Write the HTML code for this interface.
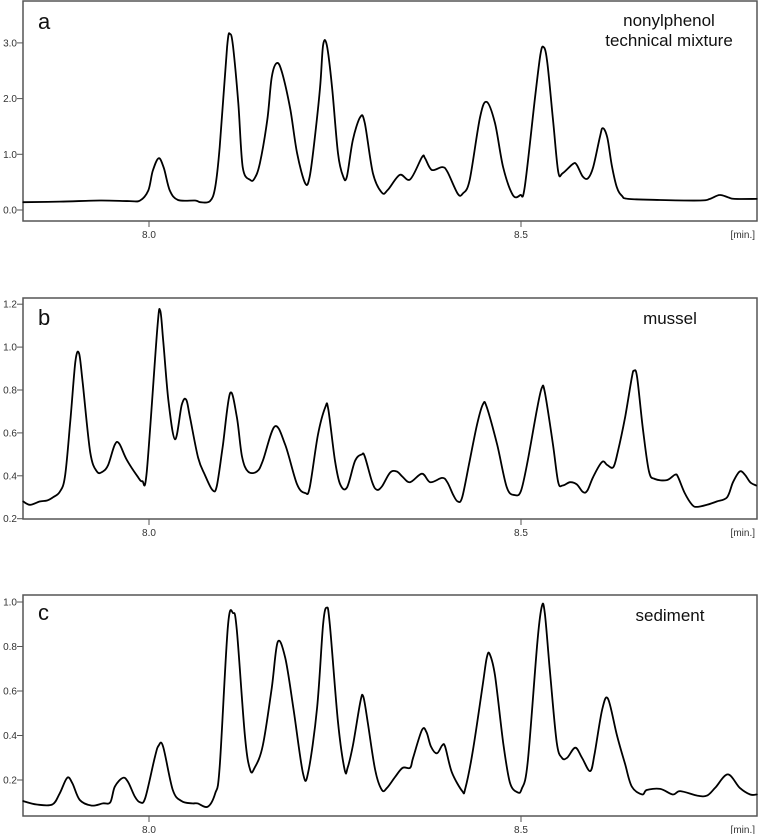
<!DOCTYPE html>
<html><head><meta charset="utf-8">
<style>
html,body{margin:0;padding:0;background:#fff;}
svg{display:block;font-family:"Liberation Sans",Arial,sans-serif;}
</style></head>
<body>
<svg id="chart" width="761" height="834" viewBox="0 0 761 834" xmlns="http://www.w3.org/2000/svg"></svg>
<script>
// Panel a: nonylphenol technical mixture
const timesA = [7.831,7.880,7.934,7.974,7.988,7.999,8.005,8.013,8.020,8.028,8.039,8.062,8.069,8.082,8.089,8.095,8.105,8.109,8.113,8.120,8.126,8.136,8.142,8.149,8.159,8.165,8.172,8.179,8.190,8.199,8.210,8.216,8.223,8.230,8.234,8.239,8.246,8.254,8.261,8.266,8.274,8.284,8.290,8.301,8.313,8.321,8.337,8.351,8.367,8.371,8.380,8.394,8.401,8.415,8.422,8.431,8.445,8.454,8.465,8.476,8.489,8.499,8.505,8.519,8.526,8.530,8.535,8.543,8.550,8.556,8.570,8.575,8.583,8.590,8.597,8.606,8.610,8.616,8.622,8.629,8.636,8.644,8.687,8.741,8.754,8.767,8.778,8.787,8.817];
const valuesA = [0.14,0.15,0.17,0.16,0.17,0.35,0.7,0.93,0.75,0.35,0.18,0.17,0.14,0.16,0.41,1.13,2.93,3.16,2.93,1.92,0.77,0.54,0.57,0.84,1.62,2.39,2.64,2.46,1.8,1.02,0.48,0.6,1.31,2.21,2.96,2.96,2.21,1.02,0.6,0.6,1.26,1.67,1.56,0.66,0.31,0.36,0.63,0.55,0.95,0.93,0.72,0.77,0.69,0.29,0.30,0.54,1.67,1.94,1.56,0.77,0.27,0.27,0.41,2.03,2.78,2.93,2.69,1.62,0.69,0.66,0.83,0.81,0.6,0.57,0.77,1.31,1.47,1.3,0.8,0.4,0.25,0.2,0.18,0.17,0.2,0.27,0.23,0.2,0.2];
const ticksA = ["0.0","1.0","2.0","3.0"];

// Panel b: mussel
const timesB = [7.831,7.840,7.853,7.863,7.871,7.880,7.887,7.894,7.901,7.906,7.911,7.921,7.930,7.938,7.945,7.954,7.960,7.970,7.984,7.991,7.997,8.011,8.015,8.019,8.026,8.035,8.044,8.050,8.055,8.066,8.075,8.085,8.091,8.099,8.109,8.118,8.125,8.133,8.145,8.153,8.169,8.183,8.199,8.210,8.216,8.227,8.237,8.241,8.250,8.257,8.266,8.277,8.286,8.290,8.300,8.306,8.313,8.324,8.333,8.341,8.351,8.367,8.378,8.394,8.401,8.409,8.415,8.421,8.431,8.441,8.449,8.454,8.468,8.481,8.492,8.500,8.509,8.522,8.528,8.532,8.543,8.550,8.556,8.566,8.575,8.583,8.589,8.597,8.609,8.616,8.624,8.630,8.640,8.649,8.652,8.656,8.664,8.672,8.680,8.696,8.707,8.711,8.720,8.730,8.737,8.750,8.763,8.777,8.785,8.794,8.801,8.808,8.816];
const valuesB = [0.28,0.265,0.28,0.285,0.30,0.325,0.395,0.645,0.93,0.97,0.83,0.51,0.42,0.42,0.45,0.545,0.55,0.475,0.40,0.375,0.42,1.08,1.17,1.035,0.755,0.57,0.73,0.755,0.675,0.485,0.405,0.335,0.35,0.535,0.785,0.675,0.49,0.42,0.42,0.47,0.63,0.545,0.36,0.32,0.345,0.59,0.72,0.71,0.47,0.36,0.345,0.47,0.50,0.49,0.37,0.335,0.35,0.415,0.42,0.395,0.37,0.41,0.37,0.39,0.37,0.31,0.28,0.30,0.47,0.64,0.735,0.72,0.545,0.345,0.31,0.33,0.47,0.72,0.81,0.79,0.545,0.37,0.355,0.37,0.36,0.325,0.33,0.395,0.465,0.45,0.44,0.51,0.675,0.86,0.89,0.86,0.615,0.42,0.385,0.38,0.405,0.395,0.32,0.265,0.255,0.265,0.28,0.30,0.37,0.42,0.405,0.37,0.355];
const ticksB = ["0.2","0.4","0.6","0.8","1.0","1.2"];

// Panel c: sediment
const timesC = [7.831,7.849,7.870,7.880,7.890,7.897,7.907,7.923,7.938,7.948,7.954,7.965,7.972,7.981,7.988,7.995,8.008,8.013,8.019,8.032,8.044,8.058,8.065,8.079,8.089,8.095,8.106,8.113,8.118,8.129,8.136,8.142,8.153,8.165,8.173,8.183,8.194,8.207,8.214,8.226,8.234,8.239,8.243,8.254,8.263,8.267,8.274,8.284,8.288,8.294,8.304,8.313,8.320,8.331,8.341,8.351,8.355,8.367,8.373,8.379,8.387,8.394,8.398,8.407,8.421,8.425,8.435,8.448,8.454,8.458,8.465,8.476,8.485,8.495,8.501,8.509,8.522,8.528,8.532,8.539,8.548,8.555,8.562,8.573,8.582,8.593,8.599,8.609,8.617,8.629,8.640,8.649,8.663,8.669,8.687,8.704,8.714,8.737,8.750,8.761,8.778,8.794,8.808,8.817];
const valuesC = [0.105,0.09,0.09,0.14,0.21,0.185,0.11,0.085,0.095,0.10,0.17,0.21,0.19,0.125,0.10,0.12,0.305,0.355,0.35,0.155,0.105,0.095,0.095,0.08,0.14,0.26,0.89,0.95,0.875,0.395,0.245,0.255,0.355,0.615,0.82,0.75,0.525,0.23,0.235,0.525,0.90,0.975,0.90,0.46,0.245,0.255,0.355,0.55,0.575,0.46,0.245,0.155,0.165,0.215,0.255,0.255,0.30,0.425,0.415,0.35,0.32,0.355,0.35,0.235,0.15,0.16,0.325,0.615,0.75,0.765,0.67,0.37,0.19,0.145,0.16,0.28,0.82,0.98,0.95,0.685,0.37,0.30,0.30,0.345,0.30,0.24,0.32,0.515,0.565,0.40,0.27,0.17,0.135,0.155,0.16,0.135,0.15,0.13,0.13,0.165,0.225,0.165,0.135,0.135];
const ticksC = ["0.2","0.4","0.6","0.8","1.0"];

const xTicks = ["8.0","8.5"];

const NS = "http://www.w3.org/2000/svg";
const svg = document.getElementById("chart");
function xScale(t){ return 149 + (t - 8.0) * 744; }
function mk(tag, attrs, parent){
  const e = document.createElementNS(NS, tag);
  for (const k in attrs) e.setAttribute(k, attrs[k]);
  (parent || svg).appendChild(e);
  return e;
}
function smoothPath(P){
  let d = "M" + P[0][0].toFixed(1) + "," + P[0][1].toFixed(1);
  for (let i = 0; i < P.length - 1; i++){
    const p0 = P[i - 1] || P[i], p1 = P[i], p2 = P[i + 1], p3 = P[i + 2] || P[i + 1];
    const c1x = p1[0] + (p2[0] - p0[0]) / 6, c1y = p1[1] + (p2[1] - p0[1]) / 6;
    const c2x = p2[0] - (p3[0] - p1[0]) / 6, c2y = p2[1] - (p3[1] - p1[1]) / 6;
    d += " C" + c1x.toFixed(1) + "," + c1y.toFixed(1) + " " + c2x.toFixed(1) + "," + c2y.toFixed(1) + " " + p2[0].toFixed(1) + "," + p2[1].toFixed(1);
  }
  return d;
}

const panels = [
  {id:"a", top:1, bottom:221, zeroY:210, ppu:55.7, times:timesA, values:valuesA, ticks:ticksA, letterY:29, titles:[["nonylphenol",669,26],["technical mixture",669,46]]},
  {id:"b", top:298, bottom:519, zeroY:518.7+0.2*214.5, ppu:214.5, times:timesB, values:valuesB, ticks:ticksB, letterY:325, titles:[["mussel",670,324]]},
  {id:"c", top:595, bottom:816, zeroY:824.5, ppu:222.5, times:timesC, values:valuesC, ticks:ticksC, letterY:620, titles:[["sediment",670,621]]}
];

panels.forEach(p => {
  const g = mk("g", {});
  
  
  const yScale = v => p.zeroY - v * p.ppu;

  const box = mk("rect", {x:23, y:p.top, width:734, height:p.bottom - p.top, fill:"none", stroke:"#555", "stroke-width":1.5}, g);
  
  

  p.ticks.forEach(lbl => {
    const y = yScale(parseFloat(lbl));
    const tk = mk("line", {x1:17, x2:23, y1:y, y2:y, stroke:"#555", "stroke-width":1}, g);
    
    
    const tx = mk("text", {x:17, y:y + 3.5, "text-anchor":"end", "font-size":10, fill:"#333"}, g);
    
    
    tx.textContent = lbl;
  });

  xTicks.forEach(lbl => {
    const x = xScale(parseFloat(lbl));
    const tk = mk("line", {x1:x, x2:x, y1:p.bottom, y2:p.bottom + 6, stroke:"#555", "stroke-width":1}, g);
    
    
    const tx = mk("text", {x:x, y:p.bottom + 17, "text-anchor":"middle", "font-size":10, fill:"#333"}, g);
    
    
    tx.textContent = lbl;
  });

  const unit = mk("text", {x:755, y:p.bottom + 17, "text-anchor":"end", "font-size":10, fill:"#333"}, g);
  
  
  unit.textContent = "[min.]";

  const letter = mk("text", {x:38, y:p.letterY, "font-size":22, fill:"#111"}, g);
  
  
  letter.textContent = p.id;

  p.titles.forEach(t => {
    const tt = mk("text", {x:t[1], y:t[2], "text-anchor":"middle", "font-size":17, fill:"#111"}, g);
    
    
    tt.textContent = t[0];
  });

  const P = p.times.map((t, i) => [xScale(t), yScale(p.values[i])]);
  const line = mk("path", {d:smoothPath(P), fill:"none", stroke:"#000", "stroke-width":1.8, "stroke-linejoin":"round", "stroke-linecap":"round"}, g);
  
  
});
</script>
</body></html>
